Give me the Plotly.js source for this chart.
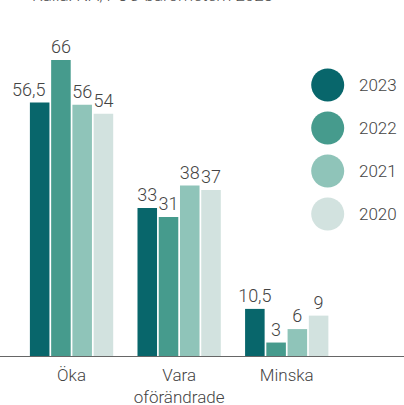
<!DOCTYPE html>
<html><head><meta charset="utf-8">
<script src="https://cdn.plot.ly/plotly-3.0.1.min.js"></script>
<style>html,body{margin:0;padding:0;background:#fff;}#chart{width:404px;height:405px;}</style>
</head><body><div id="chart"></div>
<script>
const categories = ["Öka", "Vara<br>oförändrade", "Minska"];
const years = ["2023", "2022", "2021", "2020"];
const colors = ["#08666b", "#469b8d", "#8fc4b9", "#d2e2df"];
const v2023 = [56.5, 33, 10.5];
const v2022 = [66, 31, 3];
const v2021 = [56, 38, 6];
const v2020 = [54, 37, 9];
const series = [v2023, v2022, v2021, v2020];
const sourceText = "Källa: NA, POC-barometern 2023";

const fmt = v => String(v).replace(".", ",");
const FONT = "Roboto, Liberation Sans, Arial, sans-serif";
const W = 300;
const labelFont = {family: FONT, size: 18, color: "#444", weight: W};

// the first label (Öka 2023) is nudged left in the original to avoid the taller neighbour
const traces = series.map((vals, i) => ({
  type: "bar",
  name: years[i],
  x: categories,
  y: vals,
  marker: {color: colors[i], line: {width: 0}},
  text: vals.map((v, j) => (i === 0 && j === 0) ? "" : fmt(v)),
  textposition: "outside",
  cliponaxis: false,
  constraintext: "none",
  textfont: labelFont,
  hoverinfo: "none",
  showlegend: false
}));

const shapes = [];
const annotations = [{
  xref: "x", yref: "y", x: categories[0], y: v2023[0],
  xanchor: "center", yanchor: "bottom", xshift: -43, yshift: 1,
  showarrow: false, text: fmt(v2023[0]), font: labelFont
}];
years.forEach((y, i) => {
  const cy = 85 + i * 43; // pixel from top of figure
  const yp = 1 - (cy - 42) / 314;
  shapes.push({
    type: "circle", xref: "paper", yref: "paper",
    xsizemode: "pixel", ysizemode: "pixel",
    xanchor: 327.7 / 404, yanchor: yp,
    x0: -16.5, x1: 16.5, y0: -16.5, y1: 16.5,
    fillcolor: colors[i], line: {width: 0}
  });
  annotations.push({
    xref: "paper", yref: "paper", x: 357 / 404, y: yp,
    xanchor: "left", yanchor: "middle", showarrow: false,
    text: y, font: {family: FONT, size: 17, color: "#444", weight: W}
  });
});
annotations.push({
  xref: "paper", yref: "paper", x: 30 / 404, y: 1 + 47 / 314,
  xanchor: "left", yanchor: "middle", showarrow: false,
  text: sourceText, font: {family: FONT, size: 17, color: "#555", weight: W}
});

const layout = {
  width: 404, height: 405,
  margin: {l: 0, r: 0, t: 42, b: 49, pad: 0},
  paper_bgcolor: "#fff", plot_bgcolor: "#fff",
  barmode: "group", bargap: 0.21, bargroupgap: 0.08,
  showlegend: false,
  xaxis: {
    range: [-0.665, 3.09], showgrid: false, zeroline: false,
    showline: false, ticks: "", ticklabelstandoff: 7,
    tickfont: {family: FONT, size: 17, color: "#444", weight: W}, fixedrange: true
  },
  yaxis: {
    range: [0, 70], showgrid: false, zeroline: true, zerolinecolor: "#666",
    zerolinewidth: 1, showticklabels: false, showline: false, ticks: "", fixedrange: true
  },
  shapes: shapes,
  annotations: annotations
};

Plotly.newPlot("chart", traces, layout, {displayModeBar: false, staticPlot: true});
</script>
</body></html>
